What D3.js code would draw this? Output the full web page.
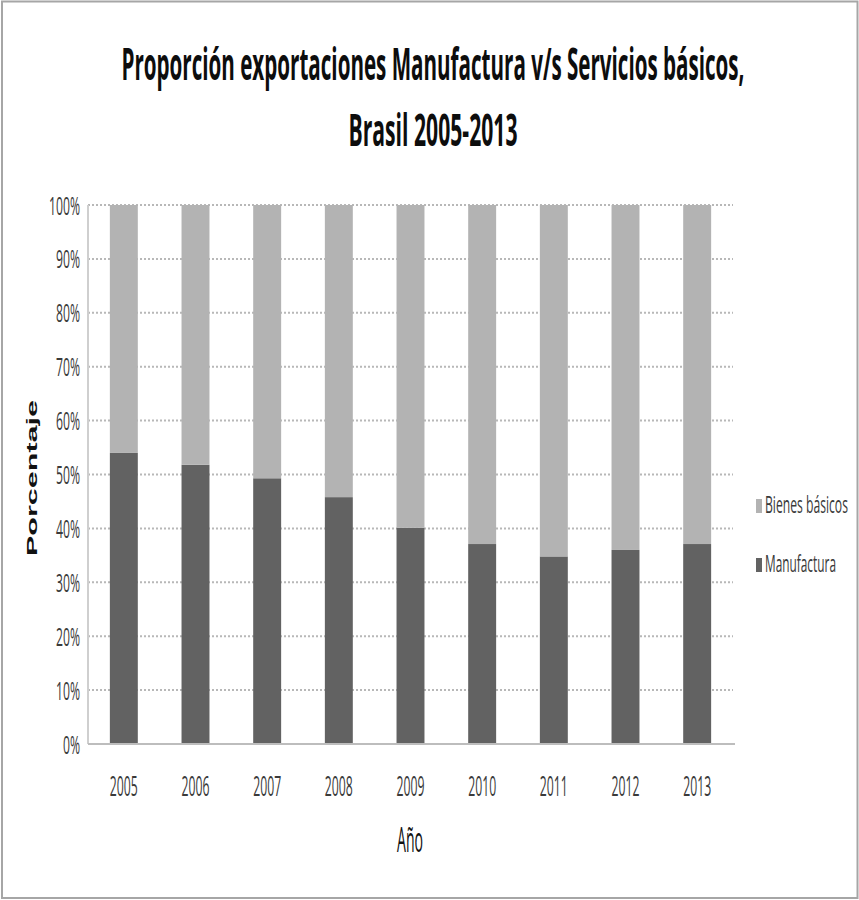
<!DOCTYPE html>
<html>
<head>
<meta charset="utf-8">
<script src="https://cdn.jsdelivr.net/npm/d3@7"></script>
<style>
html,body{margin:0;padding:0;background:#fff;}
svg{display:block;}
</style>
</head>
<body>
<svg id="chart" width="859" height="900"></svg>
<script>
const years = ["2005","2006","2007","2008","2009","2010","2011","2012","2013"];
const manufactura = [54.0, 51.8, 49.3, 45.8, 40.1, 37.1, 34.8, 36.0, 37.1];
const bienesBasicos = manufactura.map(v => 100 - v);
const yTicks = [0,10,20,30,40,50,60,70,80,90,100];
const seriesNames = ["Bienes básicos", "Manufactura"];
const seriesColors = ["#b3b3b3", "#626262"];
const titleLines = ["Proporción exportaciones Manufactura v/s Servicios básicos,", "Brasil 2005-2013"];

const svg = d3.select("#chart");
const sans = "'Open Sans','Liberation Sans',sans-serif";
const CAP = 0.714;

// place a text whose natural glyphs are squeezed/stretched horizontally to a target width
function fitText(parent, str, o) {
  const g = parent.append("g").attr("transform", `translate(${o.x},${o.y})${o.rotate ? ` rotate(${o.rotate})` : ""}`);
  const t = g.append("text")
    .attr("text-anchor", o.anchor || "middle")
    .attr("font-family", o.family || sans)
    .attr("font-weight", o.weight || "normal")
    .attr("font-size", o.cap / CAP)
    .attr("fill", o.fill || "#111")
    .text(str);
  const len = t.node().getComputedTextLength();
  t.attr("transform", `scale(${o.width / len},1)`);
  return t;
}

// frame
svg.append("rect").attr("x",2).attr("y",1.5).attr("width",855.5).attr("height",896.5)
  .attr("fill","#fff").attr("stroke","#a6a6a6").attr("stroke-width",2);

const pLeft = 88, pRight = 733, pTop = 205, pBottom = 744;
const x = d3.scaleBand().domain(years).range([pLeft, pRight]).paddingInner(0.61).paddingOuter(0.305);
const y = d3.scaleLinear().domain([0,100]).range([pBottom, pTop]);

// gridlines
svg.append("g").selectAll("line").data(yTicks.filter(d=>d>0)).join("line")
  .attr("x1", pLeft).attr("x2", pRight)
  .attr("y1", d=>y(d)).attr("y2", d=>y(d))
  .attr("stroke","#b8b8b8").attr("stroke-width",2).attr("stroke-dasharray","2,2");

// stacked bars
const rows = years.map((yr,i)=>({year:yr, "Manufactura":manufactura[i], "Bienes básicos":bienesBasicos[i]}));
const stack = d3.stack().keys(["Manufactura","Bienes básicos"])(rows);
const color = d3.scaleOrdinal().domain(seriesNames).range(seriesColors);
svg.append("g").selectAll("g").data(stack).join("g")
  .attr("fill", d=>color(d.key))
  .selectAll("rect").data(d=>d).join("rect")
  .attr("x", d=>x(d.data.year)).attr("width", x.bandwidth())
  .attr("y", d=>y(d[1])).attr("height", d=>y(d[0])-y(d[1]));

// axes lines
svg.append("line").attr("x1",pLeft).attr("x2",pLeft).attr("y1",pTop).attr("y2",pBottom)
  .attr("stroke","#cfcfcf").attr("stroke-width",2);
svg.append("line").attr("x1",pLeft).attr("x2",pRight+2).attr("y1",pBottom).attr("y2",pBottom)
  .attr("stroke","#bdbdbd").attr("stroke-width",2);

// y tick labels
const yAxis = d3.axisLeft(y).tickValues(yTicks).tickFormat(d=>d+"%").tickSize(0);
const gy = svg.append("g").attr("transform",`translate(${pLeft},0)`).call(yAxis);
gy.select(".domain").remove();
gy.selectAll(".tick text")
  .attr("font-family",sans).attr("font-size",18/CAP).attr("fill","#3a3a3a")
  .attr("x",0).attr("dy",null).attr("y",9);
{
  const probe = gy.selectAll(".tick text").filter(d=>d===100).node();
  const sx = 31 / probe.getComputedTextLength();
  gy.selectAll(".tick text").attr("transform",`translate(-8,0) scale(${sx},1)`);
}

// x tick labels
const xAxis = d3.axisBottom(x).tickSize(0);
const gx = svg.append("g").attr("transform",`translate(0,${pBottom})`).call(xAxis);
gx.select(".domain").remove();
gx.selectAll(".tick text")
  .attr("font-family",sans).attr("font-size",20/CAP).attr("fill","#3a3a3a")
  .attr("y",0).attr("dy",null);
{
  const sx = 28 / gx.select(".tick text").node().getComputedTextLength();
  gx.selectAll(".tick text").attr("transform",`translate(0,52) scale(${sx},1)`);
}

// title
const titleWidths = [623, 169];
const titleBaselines = [80, 146];
titleLines.forEach((s,i)=>fitText(svg, s, {x:433, y:titleBaselines[i], width:titleWidths[i], cap:32, weight:"bold", fill:"#0d0d0d"}));

// axis titles
fitText(svg, "Año", {x:410, y:852, width:26, cap:25, fill:"#111"});
fitText(svg, "Porcentaje", {x:37, y:478, rotate:-90, width:156, cap:11, weight:"bold",
  family:"'Liberation Sans',Arial,sans-serif", fill:"#111"});

// legend
const legendBase = [513, 572];
const legendWidths = [83, 71];
const lg = svg.append("g");
seriesNames.forEach((name,i)=>{
  lg.append("rect").attr("x",756).attr("y",legendBase[i]-14).attr("width",6).attr("height",14)
    .attr("fill",color(name));
  fitText(lg, name, {x:765, y:legendBase[i], anchor:"start", width:legendWidths[i], cap:17, fill:"#3a3a3a"});
});
</script>
</body>
</html>
